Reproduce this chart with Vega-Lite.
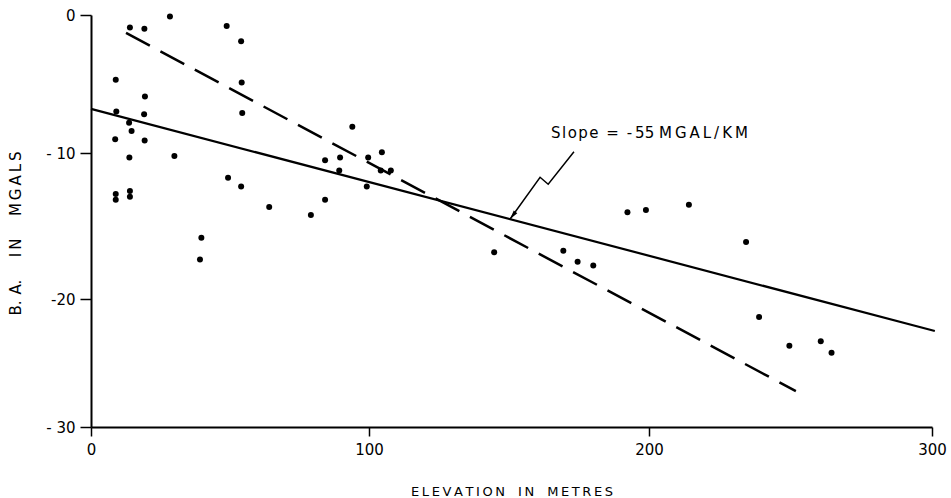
{
  "$schema": "https://vega.github.io/schema/vega-lite/v6.json",
  "width": 841,
  "height": 412,
  "autosize": {"type": "none"},
  "padding": {"left": 91, "top": 15, "right": 19, "bottom": 71},
  "background": "white",
  "config": {"view": {"stroke": null}, "font": "DejaVu Sans"},
  "datasets": {
    "stations": [
      {"elev": 28.4, "ba": -0.1}, {"elev": 14.0, "ba": -0.9}, {"elev": 19.2, "ba": -1.0},
      {"elev": 48.8, "ba": -0.8}, {"elev": 54.0, "ba": -1.9}, {"elev": 8.9, "ba": -4.7},
      {"elev": 19.4, "ba": -5.9}, {"elev": 54.2, "ba": -4.9}, {"elev": 54.4, "ba": -7.1},
      {"elev": 9.1, "ba": -7.0}, {"elev": 19.1, "ba": -7.2}, {"elev": 13.7, "ba": -7.8},
      {"elev": 14.6, "ba": -8.4}, {"elev": 8.7, "ba": -9.0}, {"elev": 19.3, "ba": -9.1},
      {"elev": 13.8, "ba": -10.3}, {"elev": 30.0, "ba": -10.2}, {"elev": 49.3, "ba": -11.7},
      {"elev": 54.0, "ba": -12.3}, {"elev": 8.9, "ba": -12.8}, {"elev": 8.9, "ba": -13.2},
      {"elev": 14.0, "ba": -12.6}, {"elev": 14.0, "ba": -13.0}, {"elev": 64.1, "ba": -13.7},
      {"elev": 79.1, "ba": -14.25}, {"elev": 39.7, "ba": -15.8}, {"elev": 39.2, "ba": -17.3},
      {"elev": 94.0, "ba": -8.1}, {"elev": 84.2, "ba": -10.5}, {"elev": 89.6, "ba": -10.3},
      {"elev": 99.7, "ba": -10.3}, {"elev": 104.6, "ba": -9.95}, {"elev": 89.3, "ba": -11.2},
      {"elev": 104.2, "ba": -11.2}, {"elev": 107.8, "ba": -11.2}, {"elev": 99.2, "ba": -12.3},
      {"elev": 84.2, "ba": -13.2}, {"elev": 144.7, "ba": -16.8}, {"elev": 169.4, "ba": -16.7},
      {"elev": 174.5, "ba": -17.45}, {"elev": 180.1, "ba": -17.7}, {"elev": 192.3, "ba": -14.05},
      {"elev": 198.9, "ba": -13.9}, {"elev": 214.1, "ba": -13.55}, {"elev": 234.3, "ba": -16.1},
      {"elev": 238.9, "ba": -21.4}, {"elev": 249.6, "ba": -23.65}, {"elev": 260.7, "ba": -23.3},
      {"elev": 264.5, "ba": -24.2}
    ],
    "solid": [{"elev": 0, "ba": -6.8}, {"elev": 301, "ba": -22.5}],
    "dashed": [{"elev": 12.6, "ba": -1.3}, {"elev": 251.9, "ba": -27.2}],
    "pointer": [
      {"elev": 173.2, "ba": -9.91}, {"elev": 164.0, "ba": -12.14},
      {"elev": 161.1, "ba": -11.66}, {"elev": 150.4, "ba": -14.52}
    ],
    "tip": [{"elev": 150.4, "ba": -14.52}],
    "label": [{"elev": 165.0, "ba": -8.55, "text": "S\u200Al\u200Ao\u200Ap\u200Ae\u2009 =\u2009 -\u200955 M\u2009G\u2009A\u2009L\u2009/\u2009K\u2009M"}]
  },
  "encoding": {
    "x": {
      "field": "elev", "type": "quantitative",
      "scale": {"domain": [0, 100, 200, 300], "range": [0, 278, 558, 841], "nice": false, "zero": false},
      "axis": {
        "title": "E\u2009L\u2009E\u2009V\u2009A\u2009T\u2009I\u2009O\u2009N\u2003I\u2009N\u2003M\u2009E\u2009T\u2009R\u2009E\u2009S",
        "values": [0, 100, 200, 300], "grid": false,
        "labelFontSize": 15, "labelColor": "black", "labelPadding": 6, "labelFlush": false,
        "tickColor": "black", "tickWidth": 1.5, "tickSize": 9,
        "domainColor": "black", "domainWidth": 2,
        "titleFontSize": 13, "titleFontWeight": "normal", "titleColor": "black",
        "titleY": 68, "titleBaseline": "alphabetic"
      }
    },
    "y": {
      "field": "ba", "type": "quantitative",
      "scale": {"domain": [-30, -20, -10, 0], "range": [412, 284, 138, 0], "nice": false, "zero": false},
      "axis": {
        "title": "B.\u2009\u2009A.\u2003\u2002I\u2009N\u2003\u2002M\u2009G\u2009A\u2009L\u2009S",
        "values": [-30, -20, -10, 0], "grid": false,
        "labelExpr": "datum.value == 0 ? '0' : (datum.value == -20 ? '-20' : '- ' + abs(datum.value))",
        "labelFontSize": 15, "labelColor": "black", "labelPadding": 5,
        "tickColor": "black", "tickWidth": 1.5, "tickSize": 11,
        "domainColor": "black", "domainWidth": 2,
        "titleFontSize": 15, "titleFontWeight": "normal", "titleColor": "black",
        "titleX": -76, "titleY": 218, "titleAngle": 270, "titleAlign": "center", "titleBaseline": "middle"
      }
    }
  },
  "layer": [
    {"data": {"name": "stations"}, "mark": {"type": "circle", "size": 36, "color": "black", "opacity": 1}},
    {"data": {"name": "solid"}, "mark": {"type": "line", "color": "black", "strokeWidth": 2.2}},
    {"data": {"name": "dashed"}, "mark": {"type": "line", "color": "black", "strokeWidth": 2.5, "strokeDash": [27, 12]}},
    {"data": {"name": "pointer"}, "mark": {"type": "line", "color": "black", "strokeWidth": 1.5}},
    {"data": {"name": "tip"}, "mark": {"type": "point", "shape": "M0,0L0.5,2L-0.5,2Z", "size": 81, "angle": 217, "filled": true, "color": "black", "opacity": 1}},
    {"data": {"name": "label"}, "mark": {"type": "text", "fontSize": 15, "align": "left", "baseline": "middle", "color": "black"}, "encoding": {"text": {"field": "text"}}}
  ]
}
